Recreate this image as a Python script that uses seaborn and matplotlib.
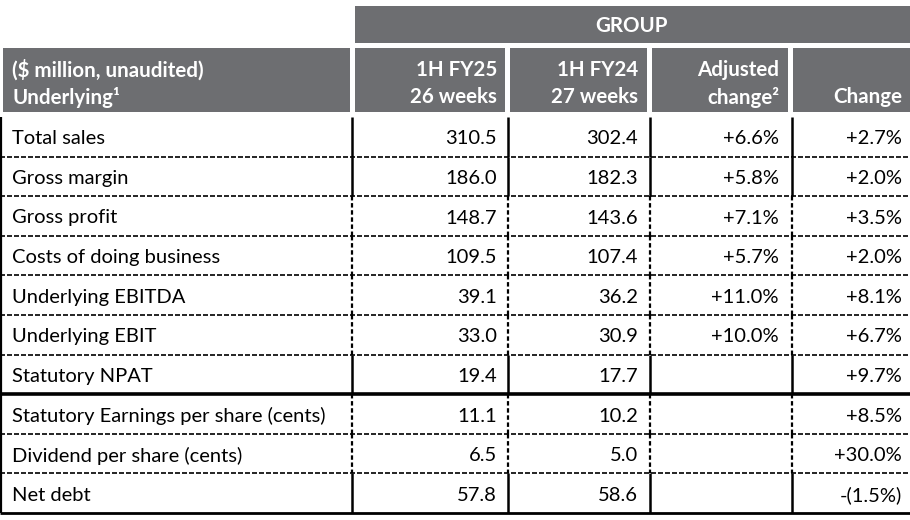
"""
plot.py - 1H FY25 group results table
"""

import matplotlib
matplotlib.use("Agg")
import matplotlib.pyplot as plt
from matplotlib.patches import Rectangle
import seaborn as sns

# ─────────────────────────────────────────────
# Data
# ─────────────────────────────────────────────
group_title  = "GROUP"
label_header = ["($ million, unaudited)", "Underlying\u00b9"]
col_headers  = [["1H FY25", "26 weeks"],
                ["1H FY24", "27 weeks"],
                ["Adjusted", "change\u00b2"],
                ["", "Change"]]

row_labels = ["Total sales", "Gross margin", "Gross profit", "Costs of doing business",
              "Underlying EBITDA", "Underlying EBIT", "Statutory NPAT",
              "Statutory Earnings per share (cents)", "Dividend per share (cents)",
              "Net debt"]
fy25       = [310.5, 186.0, 148.7, 109.5, 39.1, 33.0, 19.4, 11.1, 6.5, 57.8]
fy24       = [302.4, 182.3, 143.6, 107.4, 36.2, 30.9, 17.7, 10.2, 5.0, 58.6]
adj_change = ["+6.6%", "+5.8%", "+7.1%", "+5.7%", "+11.0%", "+10.0%", "", "", "", ""]
change     = ["+2.7%", "+2.0%", "+3.5%", "+2.0%", "+8.1%", "+6.7%", "+9.7%",
              "+8.5%", "+30.0%", "-(1.5%)"]

# ─────────────────────────────────────────────
# Style / layout (pixel space)
# ─────────────────────────────────────────────
sns.set_theme(style="white")
plt.rcParams["font.family"] = ["Lato", "DejaVu Sans"]

GREY     = "#6d6e71"
FS       = 14.5     # body
FS_H     = 14.8     # header (bold)
col_x    = [1, 352, 508, 650, 792, 910]       # column boundaries
cell_x   = [(3, 350), (355, 505), (510, 647), (652, 788), (793, 910)]
text_r   = [497, 638, 779, 902]
row_top  = 117
row_h    = 39.6
solid_rows = {0, 1, 6, 9}                     # rows with solid vertical rules

fig = plt.figure(figsize=(9.1, 5.2), dpi=100)
ax = fig.add_axes([0, 0, 1, 1])
ax.set_xlim(0, 910)
ax.set_ylim(520, 0)
ax.axis("off")

# header: GROUP band
ax.add_patch(Rectangle((355, 6), 555, 37, color=GREY, lw=0))
ax.text(632, 26, group_title, color="white", fontsize=FS_H, fontweight="bold",
        ha="center", va="center")

# header: column cells
for x0, x1 in cell_x:
    ax.add_patch(Rectangle((x0, 48), x1 - x0, 64, color=GREY, lw=0))
ax.text(12, 70, label_header[0], color="white", fontsize=FS_H, fontweight="bold", va="center")
ax.text(12, 97, label_header[1], color="white", fontsize=FS_H, fontweight="bold", va="center")
for xr, (l1, l2) in zip(text_r, col_headers):
    ax.text(xr, 70, l1, color="white", fontsize=FS_H, fontweight="bold", ha="right", va="center")
    ax.text(xr, 97, l2, color="white", fontsize=FS_H, fontweight="bold", ha="right", va="center")

# body
for i, lab in enumerate(row_labels):
    y0 = row_top + i * row_h
    y1 = y0 + row_h
    yc = (y0 + y1) / 2 + 2
    vals = [f"{fy25[i]:.1f}", f"{fy24[i]:.1f}", adj_change[i], change[i]]
    ax.text(12, yc, lab, fontsize=FS, color="black", va="center")
    for xr, v in zip(text_r, vals):
        ax.text(xr, yc, v, fontsize=FS, color="black", ha="right", va="center")

    # left border always solid
    ax.plot([col_x[0], col_x[0]], [y0, y1], color="black", lw=1.6, solid_capstyle="butt")
    for x in col_x[1:5]:
        if i in solid_rows:
            ax.plot([x, x], [y0, y1], color="black", lw=1.8, solid_capstyle="butt")
        else:
            ax.plot([x, x], [y0, y1], color="black", lw=1.6, ls=(0, (2.0, 1.2)))

    # bottom rule
    if i == 6:
        ax.plot([0, 910], [y1, y1], color="black", lw=2.6, solid_capstyle="butt")
    elif i == 9:
        ax.plot([0, 910], [y1, y1], color="black", lw=2.0, solid_capstyle="butt")
    else:
        ax.plot([0, 910], [y1, y1], color="black", lw=1.2, ls=(0, (3.0, 1.2)))

fig.savefig("out.png", dpi=100)
